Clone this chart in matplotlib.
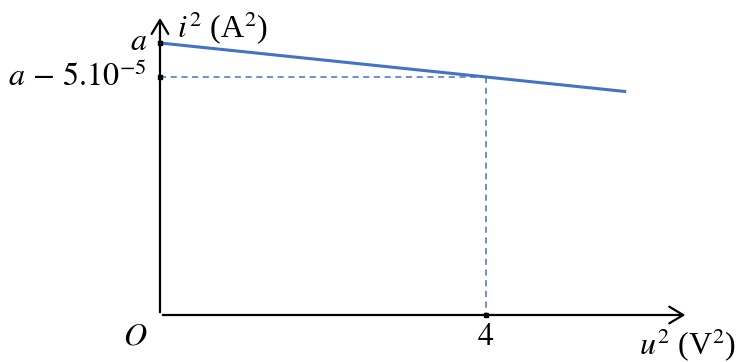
import matplotlib
matplotlib.use("Agg")
import matplotlib.pyplot as plt

plt.rcParams['mathtext.fontset'] = 'stix'
plt.rcParams['font.family'] = 'Liberation Serif'

# Data (u^2 in V^2, i^2 in A^2)
a = 4e-4
drop = 5e-5
u2_line = [0, 5.72]
slope = -drop / 4
i2_line = [a + slope * u for u in u2_line]
u2_mark = 4
i2_mark = a - drop

fig = plt.figure(figsize=(7.45, 3.62), dpi=100)
ax = fig.add_axes([0, 0, 1, 1])
ax.set_xlim(-1.963, 7.178)
ax.set_ylim(-6.91e-5, 4.632e-4)
ax.axis('off')

blue = '#4472C4'

# axes with arrows
ax.annotate('', xy=(6.48, 0), xytext=(0, 0),
            arrowprops=dict(arrowstyle='->,head_length=0.5,head_width=0.3',
                            color='black', lw=1.6, mutation_scale=20))
ax.annotate('', xy=(0, 4.41e-4), xytext=(0, 0),
            arrowprops=dict(arrowstyle='->,head_length=0.5,head_width=0.3',
                            color='black', lw=1.6, mutation_scale=20))

# line
ax.plot(u2_line, i2_line, color=blue, lw=2.2, solid_capstyle='butt')

# dashed guides
ax.plot([0, u2_mark], [i2_mark, i2_mark], color=blue, lw=1.1, ls=(0, (4, 3)))
ax.plot([u2_mark, u2_mark], [i2_mark, 0], color=blue, lw=1.1, ls=(0, (4, 3)))

# tick marks
ax.plot([0, 0, u2_mark], [a, i2_mark, 0], 's', color='black', ms=3.5, zorder=5)

fs = 23
ax.text(-0.16, a, r'$a$', ha='right', va='center', fontsize=fs)
ax.text(-0.16, i2_mark, r'$a\,-\,5.10^{-5}$', ha='right', va='center', fontsize=fs)
ax.text(0.21, 4.22e-4, r'$i^2$ (A$^2$)', ha='left', va='center', fontsize=fs)
ax.text(-0.16, -3.3e-5, r'$O$', ha='right', va='center', fontsize=fs)
ax.text(u2_mark, -3.3e-5, r'$4$', ha='center', va='center', fontsize=fs)
ax.text(5.88, -4.4e-5, r'$u^2$ (V$^2$)', ha='left', va='center', fontsize=fs)

fig.savefig('out.png', dpi=100)
